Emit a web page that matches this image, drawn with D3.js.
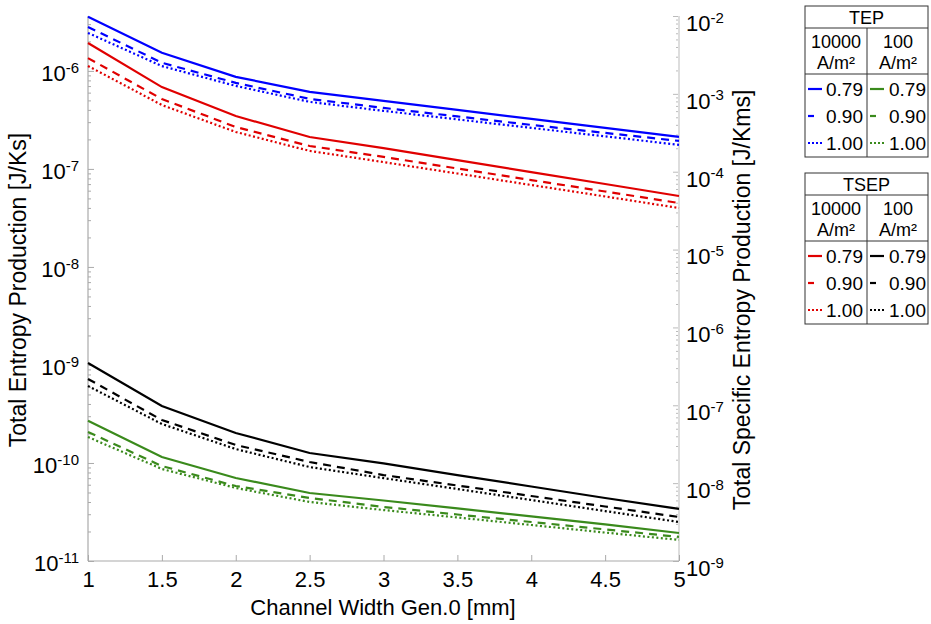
<!DOCTYPE html>
<html>
<head>
<meta charset="utf-8">
<script src="https://cdn.jsdelivr.net/npm/d3@7"></script>
<style>
  body { margin: 0; background: #fff; }
  svg { font-family: "Liberation Sans", Arial, Helvetica, sans-serif; }
</style>
</head>
<body>
<svg id="svg1" width="931" height="624"></svg>
<script>
// channel width (x) values
var widths = [1, 1.5, 2, 2.5, 3, 3.5, 4, 4.5, 5];
var xTicks = [1, 1.5, 2, 2.5, 3, 3.5, 4, 4.5, 5];

// TEP [J/Ks] (left axis)
var tep10000_079 = [3.56e-6, 1.53e-6, 8.7e-7, 6.1e-7, 4.94e-7, 4.0e-7, 3.24e-7, 2.62e-7, 2.12e-7];
var tep10000_090 = [2.81e-6, 1.21e-6, 7.55e-7, 5.18e-7, 4.19e-7, 3.43e-7, 2.81e-7, 2.33e-7, 1.93e-7];
var tep10000_100 = [2.44e-6, 1.12e-6, 7.03e-7, 4.83e-7, 3.91e-7, 3.20e-7, 2.62e-7, 2.15e-7, 1.76e-7];
var tep100_079 = [2.69e-10, 1.15e-10, 7.03e-11, 4.94e-11, 4.14e-11, 3.44e-11, 2.85e-11, 2.36e-11, 1.93e-11];
var tep100_090 = [2.07e-10, 9.31e-11, 5.82e-11, 4.40e-11, 3.56e-11, 2.98e-11, 2.50e-11, 2.10e-11, 1.76e-11];
var tep100_100 = [1.84e-10, 8.69e-11, 5.56e-11, 4.00e-11, 3.31e-11, 2.78e-11, 2.33e-11, 1.95e-11, 1.64e-11];

// TSEP [J/Kms] (right axis)
var tsep10000_079 = [4.5e-3, 1.22e-3, 5.19e-4, 2.79e-4, 2.01e-4, 1.41e-4, 9.9e-5, 6.95e-5, 4.88e-5];
var tsep10000_090 = [2.88e-3, 8.59e-4, 3.75e-4, 2.14e-4, 1.55e-4, 1.10e-4, 7.81e-5, 5.57e-5, 3.96e-5];
var tsep10000_100 = [2.28e-3, 7.19e-4, 3.24e-4, 1.85e-4, 1.33e-4, 9.48e-5, 6.75e-5, 4.81e-5, 3.42e-5];
var tsep100_079 = [3.49e-7, 9.8e-8, 4.41e-8, 2.44e-8, 1.79e-8, 1.27e-8, 9.06e-9, 6.44e-9, 4.66e-9];
var tsep100_090 = [2.18e-7, 6.47e-8, 3.09e-8, 1.87e-8, 1.27e-8, 9.33e-9, 6.84e-9, 5.01e-9, 3.67e-9];
var tsep100_100 = [1.77e-7, 5.75e-8, 2.74e-8, 1.61e-8, 1.16e-8, 8.41e-9, 6.07e-9, 4.38e-9, 3.17e-9];

var leftExps = [-11, -10, -9, -8, -7, -6];
var rightExps = [-9, -8, -7, -6, -5, -4, -3, -2];
var powerLabels = ['0.79', '0.90', '1.00'];

var svg = d3.select('svg');

var pLeft = 88, pRight = 679, pTop = 16, pBottom = 561;

var x = d3.scaleLinear().domain([1, 5]).range([pLeft, pRight]);
var yL = d3.scaleLog().domain([1e-11, Math.pow(10, -5.44)]).range([pBottom, pTop]);
var yR = d3.scaleLog().domain([1e-9, 1e-2]).range([pBottom, pTop]);

var dashes = [null, '8,6', '2,2.5'];

// minor tick values for a log axis
function minors(exps, scale) {
    var out = [];
    exps.forEach(function(e) {
        for (var k = 2; k <= 9; k++) {
            var v = k * Math.pow(10, e);
            if (v <= scale.domain()[1]) out.push(v);
        }
    });
    return out;
}

function powText(sel) {
    sel.each(function(d) {
        var t = d3.select(this);
        var e = Math.round(Math.log10(d));
        t.text(null);
        t.append('tspan').text('10');
        t.append('tspan').attr('dy', '-0.55em').style('font-size', '15px').text(String(e));
    });
}

// left axis
var gL = svg.append('g').attr('transform', 'translate(' + pLeft + ',0)');
gL.append('g').call(d3.axisLeft(yL).tickValues(minors(leftExps, yL)).tickSize(-3).tickFormat(''));
gL.append('g').attr('class', 'major')
    .call(d3.axisLeft(yL).tickValues(leftExps.map(function(e){ return Math.pow(10, e); })).tickSize(-6).tickPadding(9));
gL.selectAll('.domain').remove();
gL.selectAll('line').attr('stroke', '#aaa');
gL.append('line').attr('y1', pTop).attr('y2', pBottom).attr('stroke', '#aaa').attr('stroke-width', 1.2);
gL.selectAll('.major text').attr('fill', '#000').style('font-size', '22px').attr('dy', '0.45em').call(powText);

// right axis
var gR = svg.append('g').attr('transform', 'translate(' + pRight + ',0)');
gR.append('g').call(d3.axisRight(yR).tickValues(minors(rightExps.slice(0, -1), yR)).tickSize(-3).tickFormat(''));
gR.append('g').attr('class', 'major')
    .call(d3.axisRight(yR).tickValues(rightExps.map(function(e){ return Math.pow(10, e); })).tickSize(-6).tickPadding(7));
gR.selectAll('.domain').remove();
gR.selectAll('line').attr('stroke', '#bbb');
gR.append('line').attr('y1', pTop).attr('y2', pBottom).attr('stroke', '#ddd').attr('stroke-width', 2);
gR.selectAll('.major text').attr('fill', '#000').style('font-size', '22px').attr('dy', '0.65em').call(powText);

// bottom axis
var gX = svg.append('g').attr('transform', 'translate(0,' + pBottom + ')');
gX.call(d3.axisBottom(x).tickValues(xTicks).tickSize(-6).tickPadding(10).tickFormat(d3.format('')));
gX.selectAll('.domain').remove();
gX.selectAll('line').attr('stroke', '#aaa');
gX.append('line').attr('x1', pLeft).attr('x2', pRight).attr('stroke', '#aaa').attr('stroke-width', 1.2);
gX.selectAll('text').attr('fill', '#000').style('font-size', '22px');

// axis titles
svg.append('text').attr('x', 383).attr('y', 615).attr('text-anchor', 'middle')
    .style('font-size', '22px').text('Channel Width Gen.0 [mm]');
svg.append('text').attr('transform', 'translate(26,290) rotate(-90)').attr('text-anchor', 'middle')
    .style('font-size', '23px').text('Total Entropy Production [J/Ks]');
svg.append('text').attr('transform', 'translate(750,300) rotate(-90)').attr('text-anchor', 'middle')
    .style('font-size', '23px').text('Total Specific Entropy Production [J/Kms]');

// series
var series = [
    {vals: tep10000_079, y: yL, color: '#0000ff', dash: 0},
    {vals: tep10000_090, y: yL, color: '#0000ff', dash: 1},
    {vals: tep10000_100, y: yL, color: '#0000ff', dash: 2},
    {vals: tep100_079, y: yL, color: '#3a8a1c', dash: 0},
    {vals: tep100_090, y: yL, color: '#3a8a1c', dash: 1},
    {vals: tep100_100, y: yL, color: '#3a8a1c', dash: 2},
    {vals: tsep10000_079, y: yR, color: '#e00000', dash: 0},
    {vals: tsep10000_090, y: yR, color: '#e00000', dash: 1},
    {vals: tsep10000_100, y: yR, color: '#e00000', dash: 2},
    {vals: tsep100_079, y: yR, color: '#000000', dash: 0},
    {vals: tsep100_090, y: yR, color: '#000000', dash: 1},
    {vals: tsep100_100, y: yR, color: '#000000', dash: 2}
];

series.forEach(function(s) {
    var line = d3.line()
        .x(function(d, i){ return x(widths[i]); })
        .y(function(d){ return s.y(d); });
    svg.append('path')
        .datum(s.vals)
        .attr('d', line)
        .attr('fill', 'none')
        .attr('stroke', s.color)
        .attr('stroke-width', 2.2)
        .attr('stroke-dasharray', dashes[s.dash]);
});

// legends
function legendBox(y0, title, colA, colB) {
    var g = svg.append('g');
    var bx = 805, bw = 123, mid = 867;
    g.append('rect').attr('x', bx).attr('y', y0).attr('width', bw).attr('height', 151)
        .attr('fill', '#fff').attr('stroke', '#333').attr('stroke-width', 1);
    g.append('line').attr('x1', bx).attr('x2', bx + bw).attr('y1', y0 + 22).attr('y2', y0 + 22).attr('stroke', '#333');
    g.append('line').attr('x1', bx).attr('x2', bx + bw).attr('y1', y0 + 68).attr('y2', y0 + 68).attr('stroke', '#333');
    g.append('line').attr('x1', mid).attr('x2', mid).attr('y1', y0 + 22).attr('y2', y0 + 151).attr('stroke', '#333');
    g.append('text').attr('x', bx + bw / 2).attr('y', y0 + 18).attr('text-anchor', 'middle')
        .style('font-size', '18px').text(title);
    [['10000', 836], ['100', 898]].forEach(function(h) {
        g.append('text').attr('x', h[1]).attr('y', y0 + 42).attr('text-anchor', 'middle').style('font-size', '18px').text(h[0]);
        g.append('text').attr('x', h[1]).attr('y', y0 + 63).attr('text-anchor', 'middle').style('font-size', '18px').text('A/m²');
    });
    [[colA, 808, 863], [colB, 870, 926]].forEach(function(c) {
        powerLabels.forEach(function(lbl, i) {
            var yy = y0 + 83 + i * 27;
            var x2 = i === 1 ? c[1] + 6 : c[1] + 14;
            g.append('line').attr('x1', c[1]).attr('x2', x2).attr('y1', yy).attr('y2', yy)
                .attr('stroke', c[0]).attr('stroke-width', 2.2)
                .attr('stroke-dasharray', i === 2 ? '2,2' : null);
            g.append('text').attr('x', c[2]).attr('y', yy + 7).attr('text-anchor', 'end')
                .style('font-size', '19px').text(lbl);
        });
    });
}
legendBox(6, 'TEP', '#0000ff', '#3a8a1c');
legendBox(173, 'TSEP', '#e00000', '#000000');
</script>
</body>
</html>
